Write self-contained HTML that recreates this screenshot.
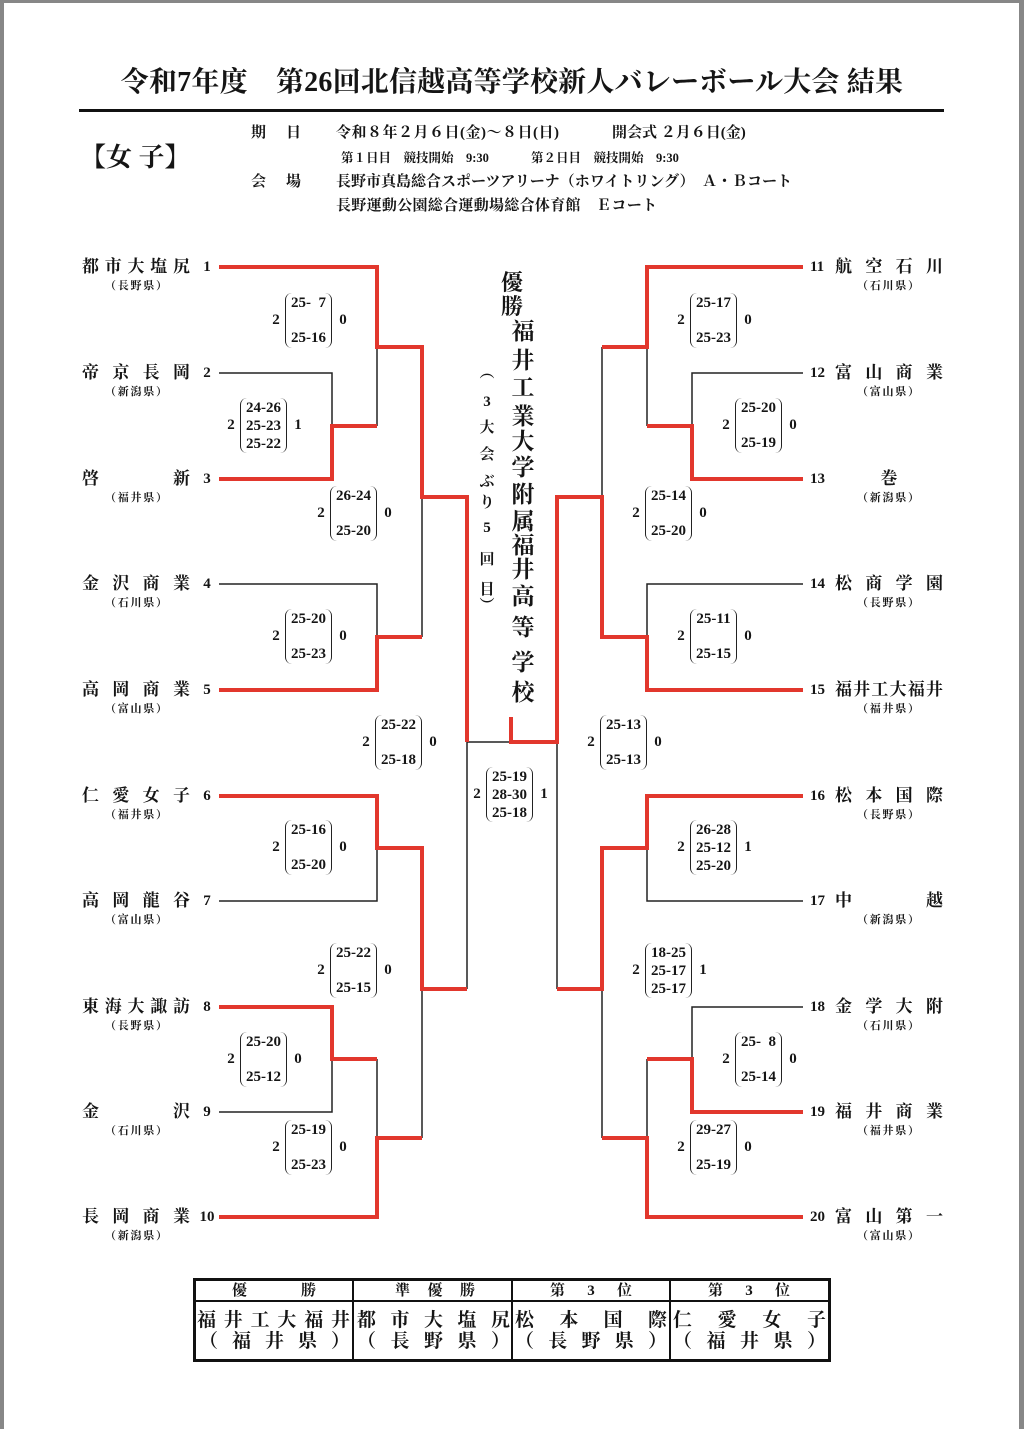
<!DOCTYPE html>
<html><head><meta charset="utf-8">
<style>
*{box-sizing:border-box}
body{margin:0;width:1024px;height:1429px;position:relative;background:#fff;overflow:hidden;font-family:"Liberation Serif","Noto Serif CJK SC",serif;color:#151515}
.a{position:absolute;white-space:nowrap}
.hi{font-weight:bold}
.nm{position:absolute;display:flex;justify-content:space-between;width:108px;font-size:17px;font-weight:bold;line-height:20px;height:20px}
.pf{position:absolute;display:flex;justify-content:space-between;width:62px;font-size:11px;line-height:16px;font-weight:bold}
.num{position:absolute;width:20px;text-align:center;font-size:15px;font-weight:bold;line-height:18px}
.rn{position:absolute;font-size:15px;font-weight:bold;line-height:18px}
.bx{position:absolute;width:47px;height:55px;border-left:1.5px solid #222;border-right:1.5px solid #222;border-radius:7px}
.bx i{position:absolute;left:0;width:100%;text-align:center;font-style:normal;font-size:15px;font-weight:bold;line-height:16px}
.sn{position:absolute;width:12px;text-align:center;font-size:15px;font-weight:bold;line-height:16px}
.vc{position:absolute;text-align:center;font-weight:bold}
.tc{position:absolute;display:flex;justify-content:space-between;font-weight:bold}
</style></head><body>

<!-- gray frame -->
<div class="a" style="left:0;top:0;width:4px;height:1429px;background:#878787"></div>
<div class="a" style="left:0;top:0;width:1024px;height:3px;background:#878787"></div>
<div class="a" style="left:1019px;top:0;width:5px;height:1429px;background:#878787"></div>

<!-- title -->
<div class="a" style="left:0;top:67px;width:1024px;text-align:center;font-size:28px;line-height:32px;font-weight:bold;letter-spacing:0.2px">令和7年度　第26回北信越高等学校新人バレーボール大会 結果</div>
<div class="a" style="left:79px;top:109px;width:865px;height:3px;background:#111"></div>

<!-- header info -->
<div class="a" style="left:80px;top:144px;font-size:26px;line-height:28px;font-weight:bold">【女 子】</div>
<div class="a hi" style="left:251px;top:125px;font-size:15px;line-height:16px">期</div>
<div class="a hi" style="left:286px;top:125px;font-size:15px;line-height:16px">日</div>
<div class="a hi" style="left:336px;top:125px;font-size:15px;line-height:16px;letter-spacing:0.5px">令和８年２月６日(金)～８日(日)</div>
<div class="a hi" style="left:612px;top:125px;font-size:15px;line-height:16px">開会式 ２月６日(金)</div>
<div class="a hi" style="left:341px;top:151px;font-size:12.5px;line-height:14px">第１日目　競技開始　9:30</div>
<div class="a hi" style="left:531px;top:151px;font-size:12.5px;line-height:14px">第２日目　競技開始　9:30</div>
<div class="a hi" style="left:251px;top:174px;font-size:15px;line-height:16px">会</div>
<div class="a hi" style="left:286px;top:174px;font-size:15px;line-height:16px">場</div>
<div class="a hi" style="left:336px;top:174px;font-size:15px;line-height:16px">長野市真島総合スポーツアリーナ（ホワイトリング）　Ａ・Ｂコート</div>
<div class="a hi" style="left:336px;top:198px;font-size:15px;line-height:16px;letter-spacing:0.3px">長野運動公園総合運動場総合体育館　Ｅコート</div>

<!-- bracket lines -->
<svg class="a" style="left:0;top:0" width="1024" height="1429" viewBox="0 0 1024 1429">
<g fill="none" stroke="#222" stroke-width="1.5">
<path d="M219 373H332V426"/><path d="M377 347V426"/><path d="M219 584H377V637"/><path d="M422 497V637"/>
<path d="M219 901H377V848"/><path d="M219 1112H332V1059"/><path d="M377 1059V1138"/><path d="M422 989V1138"/>
<path d="M467 742V989"/><path d="M467 742H511"/>
<path d="M647 347V426"/><path d="M803 373H692V426"/><path d="M602 347V497"/><path d="M803 584H647V637"/>
<path d="M803 901H647V848"/><path d="M557 742V989"/><path d="M602 989V1138"/><path d="M803 1007H692V1059"/><path d="M647 1059V1138"/>
</g>
<g fill="none" stroke="#e2372d" stroke-width="4" stroke-linejoin="miter">
<path d="M219 267H377V347H422V497H467V742"/>
<path d="M219 479H332V426H377"/>
<path d="M219 690H377V637H422"/>
<path d="M219 796H377V848H422V989H467"/>
<path d="M219 1007H332V1059H377"/>
<path d="M219 1217H377V1138H422"/>
<path d="M511 717V742H557V497H602V637H647V690H803"/>
<path d="M803 267H647V347H602"/>
<path d="M803 479H692V426H647"/>
<path d="M803 796H647V848H602V989H557"/>
<path d="M803 1112H692V1059H647"/>
<path d="M803 1217H647V1138H602"/>
</g>
</svg>

<!-- left teams -->
<div class="nm" style="left:82px;top:257px"><span>都</span><span>市</span><span>大</span><span>塩</span><span>尻</span></div>
<div class="pf" style="left:105px;top:278px"><span>（</span><span>長</span><span>野</span><span>県</span><span>）</span></div>
<div class="num" style="left:197px;top:258px">1</div>

<div class="nm" style="left:82px;top:363px"><span>帝</span><span>京</span><span>長</span><span>岡</span></div>
<div class="pf" style="left:105px;top:384px"><span>（</span><span>新</span><span>潟</span><span>県</span><span>）</span></div>
<div class="num" style="left:197px;top:364px">2</div>

<div class="nm" style="left:82px;top:469px"><span>啓</span><span>新</span></div>
<div class="pf" style="left:105px;top:490px"><span>（</span><span>福</span><span>井</span><span>県</span><span>）</span></div>
<div class="num" style="left:197px;top:470px">3</div>

<div class="nm" style="left:82px;top:574px"><span>金</span><span>沢</span><span>商</span><span>業</span></div>
<div class="pf" style="left:105px;top:595px"><span>（</span><span>石</span><span>川</span><span>県</span><span>）</span></div>
<div class="num" style="left:197px;top:575px">4</div>

<div class="nm" style="left:82px;top:680px"><span>高</span><span>岡</span><span>商</span><span>業</span></div>
<div class="pf" style="left:105px;top:701px"><span>（</span><span>富</span><span>山</span><span>県</span><span>）</span></div>
<div class="num" style="left:197px;top:681px">5</div>

<div class="nm" style="left:82px;top:786px"><span>仁</span><span>愛</span><span>女</span><span>子</span></div>
<div class="pf" style="left:105px;top:807px"><span>（</span><span>福</span><span>井</span><span>県</span><span>）</span></div>
<div class="num" style="left:197px;top:787px">6</div>

<div class="nm" style="left:82px;top:891px"><span>高</span><span>岡</span><span>龍</span><span>谷</span></div>
<div class="pf" style="left:105px;top:912px"><span>（</span><span>富</span><span>山</span><span>県</span><span>）</span></div>
<div class="num" style="left:197px;top:892px">7</div>

<div class="nm" style="left:82px;top:997px"><span>東</span><span>海</span><span>大</span><span>諏</span><span>訪</span></div>
<div class="pf" style="left:105px;top:1018px"><span>（</span><span>長</span><span>野</span><span>県</span><span>）</span></div>
<div class="num" style="left:197px;top:998px">8</div>

<div class="nm" style="left:82px;top:1102px"><span>金</span><span>沢</span></div>
<div class="pf" style="left:105px;top:1123px"><span>（</span><span>石</span><span>川</span><span>県</span><span>）</span></div>
<div class="num" style="left:197px;top:1103px">9</div>

<div class="nm" style="left:82px;top:1207px"><span>長</span><span>岡</span><span>商</span><span>業</span></div>
<div class="pf" style="left:105px;top:1228px"><span>（</span><span>新</span><span>潟</span><span>県</span><span>）</span></div>
<div class="num" style="left:197px;top:1208px">10</div>

<!-- right teams -->
<div class="rn" style="left:810px;top:258px">11</div>
<div class="nm" style="left:835px;top:257px"><span>航</span><span>空</span><span>石</span><span>川</span></div>
<div class="pf" style="left:857px;top:278px"><span>（</span><span>石</span><span>川</span><span>県</span><span>）</span></div>

<div class="rn" style="left:810px;top:364px">12</div>
<div class="nm" style="left:835px;top:363px"><span>富</span><span>山</span><span>商</span><span>業</span></div>
<div class="pf" style="left:857px;top:384px"><span>（</span><span>富</span><span>山</span><span>県</span><span>）</span></div>

<div class="rn" style="left:810px;top:470px">13</div>
<div class="nm" style="left:835px;top:469px;justify-content:center"><span>巻</span></div>
<div class="pf" style="left:857px;top:490px"><span>（</span><span>新</span><span>潟</span><span>県</span><span>）</span></div>

<div class="rn" style="left:810px;top:575px">14</div>
<div class="nm" style="left:835px;top:574px"><span>松</span><span>商</span><span>学</span><span>園</span></div>
<div class="pf" style="left:857px;top:595px"><span>（</span><span>長</span><span>野</span><span>県</span><span>）</span></div>

<div class="rn" style="left:810px;top:681px">15</div>
<div class="nm" style="left:835px;top:680px"><span>福</span><span>井</span><span>工</span><span>大</span><span>福</span><span>井</span></div>
<div class="pf" style="left:857px;top:701px"><span>（</span><span>福</span><span>井</span><span>県</span><span>）</span></div>

<div class="rn" style="left:810px;top:787px">16</div>
<div class="nm" style="left:835px;top:786px"><span>松</span><span>本</span><span>国</span><span>際</span></div>
<div class="pf" style="left:857px;top:807px"><span>（</span><span>長</span><span>野</span><span>県</span><span>）</span></div>

<div class="rn" style="left:810px;top:892px">17</div>
<div class="nm" style="left:835px;top:891px"><span>中</span><span>越</span></div>
<div class="pf" style="left:857px;top:912px"><span>（</span><span>新</span><span>潟</span><span>県</span><span>）</span></div>

<div class="rn" style="left:810px;top:998px">18</div>
<div class="nm" style="left:835px;top:997px"><span>金</span><span>学</span><span>大</span><span>附</span></div>
<div class="pf" style="left:857px;top:1018px"><span>（</span><span>石</span><span>川</span><span>県</span><span>）</span></div>

<div class="rn" style="left:810px;top:1103px">19</div>
<div class="nm" style="left:835px;top:1102px"><span>福</span><span>井</span><span>商</span><span>業</span></div>
<div class="pf" style="left:857px;top:1123px"><span>（</span><span>福</span><span>井</span><span>県</span><span>）</span></div>

<div class="rn" style="left:810px;top:1208px">20</div>
<div class="nm" style="left:835px;top:1207px"><span>富</span><span>山</span><span>第</span><span>一</span></div>
<div class="pf" style="left:857px;top:1228px"><span>（</span><span>富</span><span>山</span><span>県</span><span>）</span></div>

<!-- score boxes left -->
<div class="bx" style="left:285px;top:293px"><i style="top:2px">25-&ensp;7</i><i style="top:37px">25-16</i></div>
<div class="sn" style="left:270px;top:312px">2</div><div class="sn" style="left:337px;top:312px">0</div>

<div class="bx" style="left:240px;top:398px"><i style="top:2px">24-26</i><i style="top:20px">25-23</i><i style="top:38px">25-22</i></div>
<div class="sn" style="left:225px;top:417px">2</div><div class="sn" style="left:292px;top:417px">1</div>

<div class="bx" style="left:330px;top:486px"><i style="top:2px">26-24</i><i style="top:37px">25-20</i></div>
<div class="sn" style="left:315px;top:505px">2</div><div class="sn" style="left:382px;top:505px">0</div>

<div class="bx" style="left:285px;top:609px"><i style="top:2px">25-20</i><i style="top:37px">25-23</i></div>
<div class="sn" style="left:270px;top:628px">2</div><div class="sn" style="left:337px;top:628px">0</div>

<div class="bx" style="left:375px;top:715px"><i style="top:2px">25-22</i><i style="top:37px">25-18</i></div>
<div class="sn" style="left:360px;top:734px">2</div><div class="sn" style="left:427px;top:734px">0</div>

<div class="bx" style="left:285px;top:820px"><i style="top:2px">25-16</i><i style="top:37px">25-20</i></div>
<div class="sn" style="left:270px;top:839px">2</div><div class="sn" style="left:337px;top:839px">0</div>

<div class="bx" style="left:330px;top:943px"><i style="top:2px">25-22</i><i style="top:37px">25-15</i></div>
<div class="sn" style="left:315px;top:962px">2</div><div class="sn" style="left:382px;top:962px">0</div>

<div class="bx" style="left:240px;top:1032px"><i style="top:2px">25-20</i><i style="top:37px">25-12</i></div>
<div class="sn" style="left:225px;top:1051px">2</div><div class="sn" style="left:292px;top:1051px">0</div>

<div class="bx" style="left:285px;top:1120px"><i style="top:2px">25-19</i><i style="top:37px">25-23</i></div>
<div class="sn" style="left:270px;top:1139px">2</div><div class="sn" style="left:337px;top:1139px">0</div>

<!-- final -->
<div class="bx" style="left:486px;top:767px"><i style="top:2px">25-19</i><i style="top:20px">28-30</i><i style="top:38px">25-18</i></div>
<div class="sn" style="left:471px;top:786px">2</div><div class="sn" style="left:538px;top:786px">1</div>

<!-- score boxes right -->
<div class="bx" style="left:690px;top:293px"><i style="top:2px">25-17</i><i style="top:37px">25-23</i></div>
<div class="sn" style="left:675px;top:312px">2</div><div class="sn" style="left:742px;top:312px">0</div>

<div class="bx" style="left:735px;top:398px"><i style="top:2px">25-20</i><i style="top:37px">25-19</i></div>
<div class="sn" style="left:720px;top:417px">2</div><div class="sn" style="left:787px;top:417px">0</div>

<div class="bx" style="left:645px;top:486px"><i style="top:2px">25-14</i><i style="top:37px">25-20</i></div>
<div class="sn" style="left:630px;top:505px">2</div><div class="sn" style="left:697px;top:505px">0</div>

<div class="bx" style="left:690px;top:609px"><i style="top:2px">25-11</i><i style="top:37px">25-15</i></div>
<div class="sn" style="left:675px;top:628px">2</div><div class="sn" style="left:742px;top:628px">0</div>

<div class="bx" style="left:600px;top:715px"><i style="top:2px">25-13</i><i style="top:37px">25-13</i></div>
<div class="sn" style="left:585px;top:734px">2</div><div class="sn" style="left:652px;top:734px">0</div>

<div class="bx" style="left:690px;top:820px"><i style="top:2px">26-28</i><i style="top:20px">25-12</i><i style="top:38px">25-20</i></div>
<div class="sn" style="left:675px;top:839px">2</div><div class="sn" style="left:742px;top:839px">1</div>

<div class="bx" style="left:645px;top:943px"><i style="top:2px">18-25</i><i style="top:20px">25-17</i><i style="top:38px">25-17</i></div>
<div class="sn" style="left:630px;top:962px">2</div><div class="sn" style="left:697px;top:962px">1</div>

<div class="bx" style="left:735px;top:1032px"><i style="top:2px">25-&ensp;8</i><i style="top:37px">25-14</i></div>
<div class="sn" style="left:720px;top:1051px">2</div><div class="sn" style="left:787px;top:1051px">0</div>

<div class="bx" style="left:690px;top:1120px"><i style="top:2px">29-27</i><i style="top:37px">25-19</i></div>
<div class="sn" style="left:675px;top:1139px">2</div><div class="sn" style="left:742px;top:1139px">0</div>

<!-- vertical champion text -->
<div class="vc" style="left:501px;top:271px;width:22px;font-size:22px;line-height:24px">優</div>
<div class="vc" style="left:501px;top:295px;width:22px;font-size:22px;line-height:24px">勝</div>

<div class="vc" style="left:511px;top:320px;width:24px;font-size:23px;line-height:24px">福</div>
<div class="vc" style="left:511px;top:349px;width:24px;font-size:23px;line-height:24px">井</div>
<div class="vc" style="left:511px;top:376px;width:24px;font-size:23px;line-height:24px">工</div>
<div class="vc" style="left:511px;top:405px;width:24px;font-size:23px;line-height:24px">業</div>
<div class="vc" style="left:511px;top:430px;width:24px;font-size:23px;line-height:24px">大</div>
<div class="vc" style="left:511px;top:456px;width:24px;font-size:23px;line-height:24px">学</div>
<div class="vc" style="left:511px;top:483px;width:24px;font-size:23px;line-height:24px">附</div>
<div class="vc" style="left:511px;top:510px;width:24px;font-size:23px;line-height:24px">属</div>
<div class="vc" style="left:511px;top:534px;width:24px;font-size:23px;line-height:24px">福</div>
<div class="vc" style="left:511px;top:558px;width:24px;font-size:23px;line-height:24px">井</div>
<div class="vc" style="left:511px;top:585px;width:24px;font-size:23px;line-height:24px">高</div>
<div class="vc" style="left:511px;top:616px;width:24px;font-size:23px;line-height:24px">等</div>
<div class="vc" style="left:511px;top:651px;width:24px;font-size:23px;line-height:24px">学</div>
<div class="vc" style="left:511px;top:681px;width:24px;font-size:23px;line-height:24px">校</div>

<div class="vc" style="left:479px;top:365px;width:16px;font-size:15px;line-height:16px">︵</div>
<div class="vc" style="left:479px;top:394px;width:16px;font-size:15px;line-height:16px">3</div>
<div class="vc" style="left:479px;top:420px;width:16px;font-size:15px;line-height:16px">大</div>
<div class="vc" style="left:479px;top:447px;width:16px;font-size:15px;line-height:16px">会</div>
<div class="vc" style="left:479px;top:474px;width:16px;font-size:15px;line-height:16px">ぶ</div>
<div class="vc" style="left:479px;top:495px;width:16px;font-size:15px;line-height:16px">り</div>
<div class="vc" style="left:479px;top:520px;width:16px;font-size:15px;line-height:16px">5</div>
<div class="vc" style="left:479px;top:552px;width:16px;font-size:15px;line-height:16px">回</div>
<div class="vc" style="left:479px;top:582px;width:16px;font-size:15px;line-height:16px">目</div>
<div class="vc" style="left:479px;top:598px;width:16px;font-size:15px;line-height:16px">︶</div>

<!-- results table -->
<div class="a" style="left:193px;top:1278px;width:638px;height:84px;border:3px solid #111"></div>
<div class="a" style="left:193px;top:1300px;width:638px;height:1.5px;background:#111"></div>
<div class="a" style="left:352px;top:1278px;width:2px;height:84px;background:#111"></div>
<div class="a" style="left:511px;top:1278px;width:2px;height:84px;background:#111"></div>
<div class="a" style="left:669px;top:1278px;width:2px;height:84px;background:#111"></div>

<div class="tc" style="left:232px;top:1282px;width:84px;font-size:15px;line-height:18px"><span>優</span><span>勝</span></div>
<div class="tc" style="left:395px;top:1282px;width:80px;font-size:15px;line-height:18px"><span>準</span><span>優</span><span>勝</span></div>
<div class="tc" style="left:550px;top:1282px;width:82px;font-size:15px;line-height:18px"><span>第</span><span>3</span><span>位</span></div>
<div class="tc" style="left:708px;top:1282px;width:82px;font-size:15px;line-height:18px"><span>第</span><span>3</span><span>位</span></div>

<div class="tc" style="left:197px;top:1310px;width:153px;font-size:19px;line-height:22px"><span>福</span><span>井</span><span>工</span><span>大</span><span>福</span><span>井</span></div>
<div class="tc" style="left:357px;top:1310px;width:153px;font-size:19px;line-height:22px"><span>都</span><span>市</span><span>大</span><span>塩</span><span>尻</span></div>
<div class="tc" style="left:515px;top:1310px;width:152px;font-size:19px;line-height:22px"><span>松</span><span>本</span><span>国</span><span>際</span></div>
<div class="tc" style="left:673px;top:1310px;width:153px;font-size:19px;line-height:22px"><span>仁</span><span>愛</span><span>女</span><span>子</span></div>

<div class="tc" style="left:199px;top:1331px;width:151px;font-size:19px;line-height:22px"><span>（</span><span>福</span><span>井</span><span>県</span><span>）</span></div>
<div class="tc" style="left:357px;top:1331px;width:153px;font-size:19px;line-height:22px"><span>（</span><span>長</span><span>野</span><span>県</span><span>）</span></div>
<div class="tc" style="left:515px;top:1331px;width:152px;font-size:19px;line-height:22px"><span>（</span><span>長</span><span>野</span><span>県</span><span>）</span></div>
<div class="tc" style="left:673px;top:1331px;width:153px;font-size:19px;line-height:22px"><span>（</span><span>福</span><span>井</span><span>県</span><span>）</span></div>

</body></html>
